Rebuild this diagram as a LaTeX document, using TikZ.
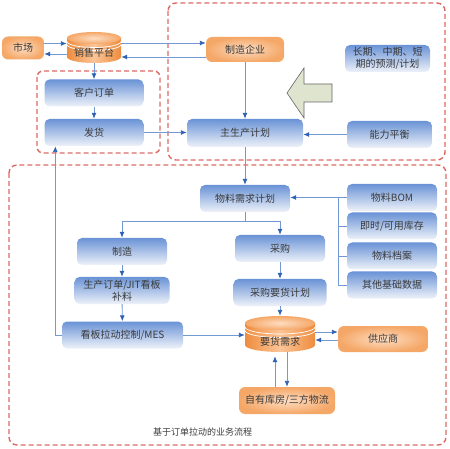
\documentclass[tikz,border=0pt]{standalone}
\usepackage{fontspec}
\newfontfamily\cjk{Noto Sans CJK SC}
\usetikzlibrary{arrows.meta}

\definecolor{boxblue}{HTML}{6A93D6}
\definecolor{boxpale}{HTML}{EEF2F9}
\definecolor{orlight}{HTML}{FDDDC2}
\definecolor{ordark}{HTML}{F5A767}
\definecolor{cylbody}{HTML}{EE8C3E}
\definecolor{cyllight}{HTML}{FBC597}
\definecolor{linkblue}{HTML}{7299D4}
\definecolor{tipblue}{HTML}{2F62B5}
\definecolor{dashred}{HTML}{DB6A66}
\definecolor{arrowfill}{HTML}{DFE4CF}
\definecolor{txt}{HTML}{3A3A3A}

\tikzset{
  bluebox/.style={rectangle, rounded corners=5pt, top color=boxblue, bottom color=boxpale, text=txt, minimum width=90pt, minimum height=27pt, inner sep=1pt, align=center},
  orbox/.style={rectangle, rounded corners=6pt, inner color=orlight, outer color=ordark, text=txt, minimum height=25pt, inner sep=1pt},
  cylbox/.style={rectangle, inner sep=0pt, text=txt, minimum height=20pt},
  conn/.style={draw=linkblue, line width=0.9pt, -{Latex[length=6pt,width=5pt,color=tipblue]}},
  wire/.style={draw=linkblue, line width=0.9pt},
  zone/.style={draw=dashred, line width=1.4pt, dash pattern=on 5pt off 3pt, rounded corners=8pt},
}

\begin{document}
\begin{tikzpicture}[x=1pt, y=-1pt, font=\cjk\fontsize{10}{12}\selectfont]
  \useasboundingbox (0,0) rectangle (450,449);

  % dashed zones
  \draw[zone] (168,3) rectangle (445,160);
  \draw[zone, rounded corners=6pt] (37,71) rectangle (160,153);
  \draw[zone] (9,165) rectangle (446,445);

  % big arrow
  \draw[fill=arrowfill, draw=black!60, line width=0.6pt] (287,93) -- (304,68) -- (304,84) -- (332,84) -- (332,102) -- (304,102) -- (304,118) -- cycle;

  % cylinder: sales platform
  \shade[left color=cylbody, right color=cylbody, middle color=cyllight] (67,38) -- (67,57) arc[start angle=180, end angle=0, x radius=27, y radius=6] -- (121,38) -- cycle;
  \shade[inner color=orlight, outer color=ordark] (94,38) ellipse [x radius=27, y radius=6];
  \draw[white, line width=0.7pt] (67,41.5) arc[start angle=180, end angle=0, x radius=27, y radius=6];
  \draw[white, line width=0.7pt] (67,44.5) arc[start angle=180, end angle=0, x radius=27, y radius=6];

  % cylinder: demand
  \shade[left color=cylbody, right color=cylbody, middle color=cyllight] (245,323) -- (245,345) arc[start angle=180, end angle=0, x radius=35, y radius=7] -- (315,323) -- cycle;
  \shade[inner color=orlight, outer color=ordark] (280,323) ellipse [x radius=35, y radius=7];
  \draw[white, line width=0.7pt] (245,327) arc[start angle=180, end angle=0, x radius=35, y radius=7];
  \draw[white, line width=0.7pt] (245,330.5) arc[start angle=180, end angle=0, x radius=35, y radius=7];

  % nodes
  \node[orbox, minimum width=42pt, minimum height=23pt] (market) at (23,48) {市场};
  \node[cylbox, minimum width=54pt] (sales) at (94,53) {销售平台};
  \node[orbox, minimum width=78pt] (maker) at (245,49.5) {制造企业};
  \node[bluebox, minimum width=99pt] (order) at (94,93) {客户订单};
  \node[bluebox, minimum width=99pt] (ship) at (94,132.5) {发货};
  \node[bluebox, minimum width=116pt, minimum height=28pt] (mps) at (245,133) {主生产计划};
  \node[bluebox, minimum width=85pt] (forecast) at (387.5,58.5) {长期、中期、短\\期的预测/计划};
  \node[bluebox, minimum width=85pt] (capacity) at (389.5,134.5) {能力平衡};
  \node[bluebox] (mrp) at (245,198.5) {物料需求计划};
  \node[bluebox] (bom) at (392,197.5) {物料BOM};
  \node[bluebox] (stock) at (392,226) {即时/可用库存};
  \node[bluebox] (mfile) at (392,256) {物料档案};
  \node[bluebox] (basedata) at (392,285) {其他基础数据};
  \node[bluebox] (make) at (122,251.5) {制造};
  \node[bluebox, minimum width=95pt] (jit) at (122,290.5) {生产订单/JIT看板\\补料};
  \node[bluebox, minimum width=121pt] (kanban) at (122.5,335) {看板拉动控制/MES};
  \node[bluebox] (buy) at (280,248.5) {采购};
  \node[bluebox, minimum width=93pt] (buyplan) at (280,292.5) {采购要货计划};
  \node[cylbox, minimum width=70pt] (demand) at (280,342) {要货需求};
  \node[orbox, minimum width=90pt, minimum height=26pt] (supplier) at (383,339) {供应商};
  \node[orbox, minimum width=96pt, minimum height=27pt] (store) at (287,400.5) {自有库房/三方物流};
  \node[text=txt, font=\cjk\fontsize{9}{11}\selectfont] (caption) at (202.5,432) {基于订单拉动的业务流程};

  % connectors
  \draw[conn] ([yshift=4.5pt]market.east) -- ([yshift=4.5pt]market.east -| sales.west);
  \draw[conn] ([yshift=-6pt]market.east -| sales.west) -- ([yshift=-6pt]market.east);
  \draw[conn] ([yshift=6.5pt]maker.west -| sales.east) -- ([yshift=6.5pt]maker.west);
  \draw[conn] ([yshift=-7.5pt]maker.west) -- ([yshift=-7.5pt]maker.west -| sales.east);
  \draw[conn] (sales.south) -- (order.north);
  \draw[conn] (order) -- (ship);
  \draw[conn] (ship.east) -- (ship.east -| mps.west);
  \draw[conn] (maker) -- (mps);
  \draw[conn] (capacity.west) -- (capacity.west -| mps.east);
  \draw[conn] (mps) -- (mrp);
  \draw[conn] (bom.west) -- (bom.west -| mrp.east);
  \draw[wire] (basedata.west) -- ++(-8,0) |- (bom.west);
  \draw[wire] (stock.west) -- ++(-8,0);
  \draw[wire] (mfile.west) -- ++(-8,0);
  \draw[conn] (mrp.south) -- ++(0,9) -| (make.north);
  \draw[conn] (mrp.south) -- ++(0,9) -| (buy.north);
  \draw[conn] (make) -- (jit);
  \draw[conn] (jit) -- (kanban);
  \draw[conn] (kanban.west) -| ([xshift=11pt]ship.south west);
  \draw[conn] (kanban.east) -- (kanban.east -| demand.west);
  \draw[conn] (buy) -- (buyplan);
  \draw[conn] (buyplan.south) -- ([yshift=16pt]demand.north);
  \draw[conn] ([yshift=7pt]supplier.west -| demand.east) -- ([yshift=7pt]supplier.west);
  \draw[conn] ([yshift=-1pt]supplier.west) -- ([yshift=-1pt]supplier.west -| demand.east);
  \draw[conn, shorten >=4pt] ([xshift=-12pt]store.north) -- ([xshift=-12pt]store.north |- demand.south);
  \draw[conn] (demand.south -| store.north) -- (store.north);
\end{tikzpicture}
\end{document}
